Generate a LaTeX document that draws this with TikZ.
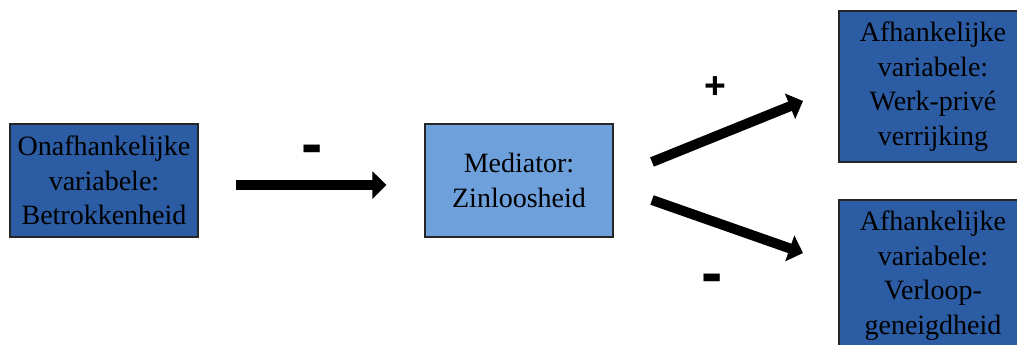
\documentclass[tikz,border=0pt]{standalone}
\usepackage{fontspec}
\setmainfont{Liberation Serif}
\newfontfamily\tekenfont{Liberation Sans}
\usetikzlibrary{arrows.meta,positioning}
\definecolor{donkerblauw}{RGB}{43,92,164}
\definecolor{lichtblauw}{RGB}{110,160,220}

\begin{document}
\begin{tikzpicture}[x=0.75pt,y=-0.75pt,
  vak/.style={draw=black!85,line width=0.8pt,minimum width=141pt,align=center,inner sep=0pt,
    font=\fontsize{21}{26}\selectfont,text=black},
  pijl/.style={line width=7.5pt,-{Triangle[length=10.5pt,width=20pt]}},
  teken/.style={inner sep=0pt,text=black}]
  \clip (0,0) rectangle (1017,344);
  % vakken
  \node[vak,fill=donkerblauw,minimum height=84.75pt] (onafh) at (104,180.5) {Onafhankelijke\\variabele:\\Betrokkenheid};
  \node[vak,fill=lichtblauw,minimum height=84.75pt] (med) at (519,180.5) {Mediator:\\Zinloosheid};
  \node[vak,fill=donkerblauw,minimum height=113.25pt] (werk) at (933,86.5) {Afhankelijke\\variabele:\\Werk-priv\'e\\verrijking};
  \node[vak,fill=donkerblauw,minimum height=113.25pt] (verloop) at (933,275.5) {Afhankelijke\\variabele:\\Verloop-\\geneigdheid};
  % pijlen
  \coordinate (boven start) at (652,162);
  \coordinate (boven eind) at (803,101);
  \coordinate (onder start) at (652,200);
  \coordinate (onder eind) at (803,253);
  \draw[pijl,shorten <=27.75pt,shorten >=28.5pt,transform canvas={yshift=-3.4pt}] (onafh) -- (med);
  \draw[pijl] (boven start) -- (boven eind);
  \draw[pijl] (onder start) -- (onder eind);
  % tekens
  \node[teken,font=\tekenfont\bfseries\fontsize{48}{48}\selectfont] (min1) at (312,155) {-};
  \node[teken,font=\tekenfont\bfseries\fontsize{28}{28}\selectfont] (plus) at (715,88) {+};
  \node[teken,font=\tekenfont\bfseries\fontsize{48}{48}\selectfont] (min2) at (712,284) {-};
\end{tikzpicture}
\end{document}
